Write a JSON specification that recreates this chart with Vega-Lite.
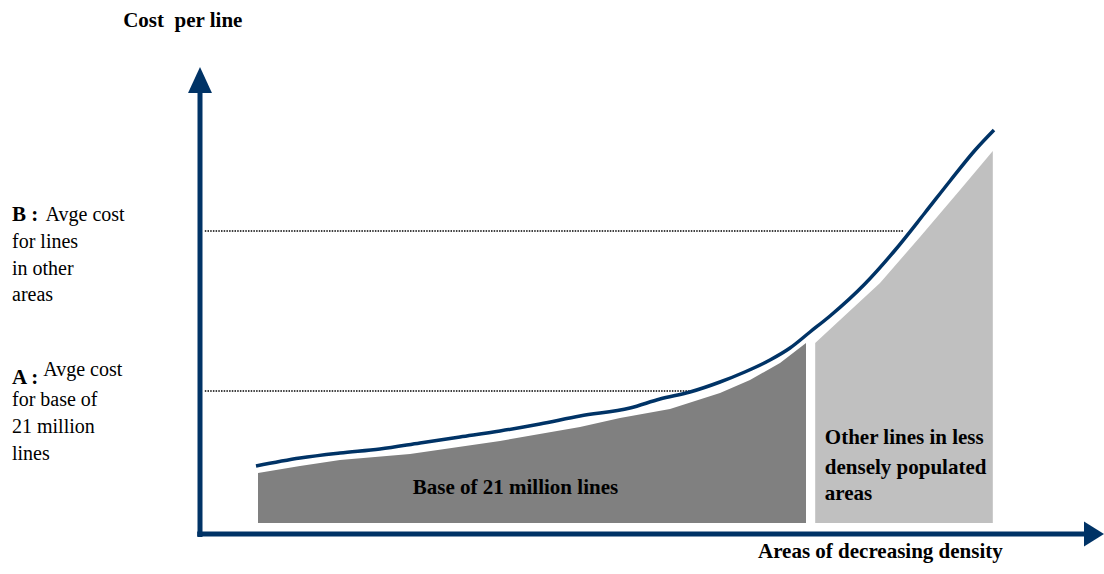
{
  "$schema": "https://vega.github.io/schema/vega-lite/v6.json",
  "width": 1104,
  "height": 574,
  "autosize": {"type": "fit", "contains": "padding"},
  "padding": 0,
  "background": "white",
  "config": {"view": {"stroke": null}},
  "datasets": {
    "axes": [
      {"x": -0.35, "y": 0, "x2": 110.75, "y2": 0},
      {"x": 0, "y": -0.6, "x2": 0, "y2": 88.2}
    ],
    "guides": [
      {"x": 0.6, "y": 60.6, "x2": 87.9, "y2": 60.6},
      {"x": 0.6, "y": 28.6, "x2": 61.25, "y2": 28.6}
    ],
    "curve": [
      {"x": 7, "y": 13.6},
      {"x": 12.5, "y": 15.2},
      {"x": 17.5, "y": 16.2},
      {"x": 22.5, "y": 17},
      {"x": 27.5, "y": 18.2},
      {"x": 32.5, "y": 19.4},
      {"x": 37.5, "y": 20.6},
      {"x": 42.5, "y": 22},
      {"x": 47.5, "y": 23.6},
      {"x": 53.75, "y": 25.2},
      {"x": 57.5, "y": 27},
      {"x": 61.25, "y": 28.4},
      {"x": 65, "y": 30.4},
      {"x": 68.1, "y": 32.4},
      {"x": 71.25, "y": 34.8},
      {"x": 73.75, "y": 37.2},
      {"x": 76.25, "y": 40.4},
      {"x": 78.75, "y": 43.6},
      {"x": 83.1, "y": 50},
      {"x": 86.9, "y": 56.8},
      {"x": 90.6, "y": 64.2},
      {"x": 93.75, "y": 70.6},
      {"x": 96.9, "y": 76.8},
      {"x": 99.25, "y": 80.8}
    ],
    "regions": [
      {"region": "base", "x": 7.25, "y": 12.2},
      {"region": "base", "x": 12.5, "y": 13.6},
      {"region": "base", "x": 17.5, "y": 14.8},
      {"region": "base", "x": 26.25, "y": 16},
      {"region": "base", "x": 37.5, "y": 18.6},
      {"region": "base", "x": 47.5, "y": 21.4},
      {"region": "base", "x": 52.5, "y": 23.2},
      {"region": "base", "x": 58.75, "y": 25},
      {"region": "base", "x": 65, "y": 28.2},
      {"region": "base", "x": 68.75, "y": 30.8},
      {"region": "base", "x": 72.5, "y": 34.2},
      {"region": "base", "x": 75.75, "y": 38.2},
      {"region": "other", "x": 76.9, "y": 38.2},
      {"region": "other", "x": 80, "y": 42.8},
      {"region": "other", "x": 85, "y": 50.2},
      {"region": "other", "x": 90, "y": 59.4},
      {"region": "other", "x": 95, "y": 68.8},
      {"region": "other", "x": 99.1, "y": 76.6}
    ],
    "arrowsUp": [{"x": 0, "y": 90.8}],
    "arrowsRight": [{"x": 111.75, "y": 0}],
    "labels": [
      {"role": "bold", "text": "Cost\u00a0 per line", "x": -9.6, "y": 101.4},
      {"role": "bold", "text": "B :", "x": -23.5, "y": 62.6},
      {"role": "bold", "text": "A :", "x": -23.5, "y": 30},
      {"role": "bold", "text": "Base of 21 million lines", "x": 26.6, "y": 8},
      {"role": "bold", "text": "Other lines in less", "x": 78.1, "y": 18},
      {"role": "bold", "text": "densely populated", "x": 78.1, "y": 12},
      {"role": "bold", "text": "areas", "x": 78.1, "y": 6.8},
      {"role": "bold", "text": "Areas of decreasing density", "x": 69.75, "y": -4.8},
      {"role": "regular", "text": "Avge cost", "x": -19.3, "y": 62.6},
      {"role": "regular", "text": "for lines", "x": -23.5, "y": 57.2},
      {"role": "regular", "text": "in other", "x": -23.5, "y": 51.8},
      {"role": "regular", "text": "areas", "x": -23.5, "y": 46.6},
      {"role": "regular", "text": "Avge cost", "x": -19.6, "y": 31.6},
      {"role": "regular", "text": "for base of", "x": -23.5, "y": 25.6},
      {"role": "regular", "text": "21 million", "x": -23.5, "y": 20.3},
      {"role": "regular", "text": "lines", "x": -23.5, "y": 14.8}
    ]
  },
  "encoding": {
    "x": {"field": "x", "type": "quantitative", "scale": {"domain": [-25, 113], "nice": false, "zero": false}, "axis": null},
    "y": {"field": "y", "type": "quantitative", "scale": {"domain": [-8, 106.8], "nice": false, "zero": false}, "axis": null}
  },
  "layer": [
    {
      "data": {"name": "regions"},
      "mark": {"type": "area", "opacity": 1},
      "encoding": {
        "y2": {"datum": 2.2},
        "color": {"field": "region", "type": "nominal", "scale": {"domain": ["base", "other"], "range": ["#808080", "#c0c0c0"]}, "legend": null}
      }
    },
    {
      "data": {"name": "guides"},
      "mark": {"type": "rule", "color": "#000000", "strokeWidth": 1.3, "strokeDash": [1.5, 1.2]},
      "encoding": {"x2": {"field": "x2"}, "y2": {"field": "y2"}}
    },
    {
      "data": {"name": "curve"},
      "mark": {"type": "line", "color": "#003366", "strokeWidth": 3.5, "interpolate": "monotone"},
      "encoding": {}
    },
    {
      "data": {"name": "axes"},
      "mark": {"type": "rule", "color": "#003366", "strokeWidth": 5},
      "encoding": {"x2": {"field": "x2"}, "y2": {"field": "y2"}}
    },
    {
      "data": {"name": "arrowsUp"},
      "mark": {"type": "point", "shape": "M0,-1L0.92,1L-0.92,1Z", "size": 676, "filled": true, "opacity": 1, "color": "#003366", "strokeWidth": 0}
    },
    {
      "data": {"name": "arrowsRight"},
      "mark": {"type": "point", "shape": "M1,0L-1,-1.25L-1,1.25Z", "size": 400, "filled": true, "opacity": 1, "color": "#003366", "strokeWidth": 0}
    },
    {
      "data": {"name": "labels"},
      "transform": [{"filter": "datum.role === 'bold'"}],
      "mark": {"type": "text", "font": "Liberation Serif", "fontWeight": "bold", "fontSize": 21, "align": "left", "baseline": "alphabetic", "color": "#000000"},
      "encoding": {"text": {"field": "text"}}
    },
    {
      "data": {"name": "labels"},
      "transform": [{"filter": "datum.role === 'regular'"}],
      "mark": {"type": "text", "font": "Liberation Serif", "fontSize": 20, "align": "left", "baseline": "alphabetic", "color": "#000000"},
      "encoding": {"text": {"field": "text"}}
    }
  ]
}
